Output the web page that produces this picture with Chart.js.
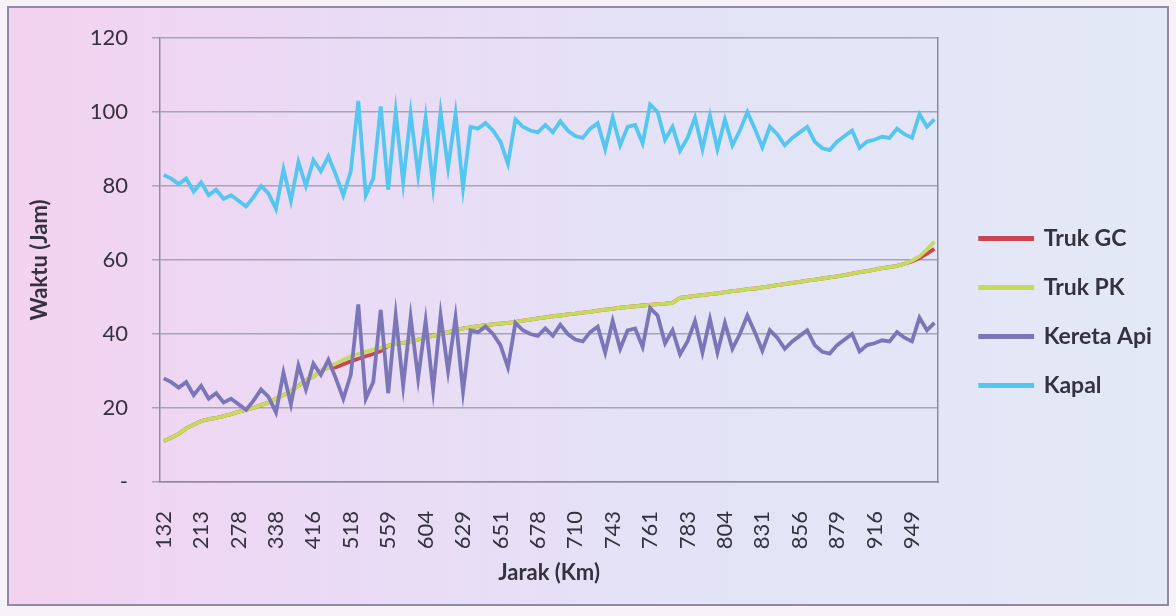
<!DOCTYPE html>
<html>
<head>
<meta charset="utf-8">
<script src="https://cdn.jsdelivr.net/npm/chart.js@4.4.1/dist/chart.umd.min.js"></script>
<style>
  html, body { margin: 0; padding: 0; width: 1176px; height: 616px; overflow: hidden; background: #f7f2f8; }
  .frame {
    position: absolute; left: 7px; top: 6px; width: 1158px; height: 596px;
    border: 2px solid #8f88a6;
    background: linear-gradient(90deg, #f3d2ef 0%, #ebdaf5 25%, #e4e2f6 55%, #e3e9f6 100%);
  }
  #chart { position: absolute; left: 0; top: 0; }
</style>
</head>
<body>
<div class="frame"></div>
<canvas id="chart" width="1176" height="616"></canvas>
<script>
// Jarak (Km) - one label per point, only every 5th is shown on the axis
const jarak = [
  132, 148, 165, 181, 198, 213, 226, 240, 252, 265,
  278, 290, 301, 315, 327, 338, 352, 371, 389, 402,
  416, 437, 458, 479, 497, 518, 525, 533, 541, 550,
  559, 567, 578, 588, 596, 604, 609, 614, 619, 624,
  629, 633, 638, 642, 647, 651, 657, 662, 668, 673,
  678, 684, 691, 697, 703, 710, 717, 724, 730, 737,
  743, 747, 750, 754, 757, 761, 765, 770, 774, 779,
  783, 787, 791, 796, 800, 804, 810, 815, 820, 826,
  831, 836, 841, 846, 851, 856, 861, 866, 870, 875,
  879, 886, 894, 901, 909, 916, 923, 929, 936, 942,
  949, 958, 967, 981
];

const trukGC = [
  11, 12, 13, 14.5, 15.5, 16.5, 17, 17.3, 17.8, 18.3,
  19, 19.5, 20, 20.8, 21.5, 22.5, 23.5, 24.5, 26, 27.5,
  28.5, 30, 31, 31, 31.8, 32.6, 33.3, 34, 34.6, 35.4,
  36.8, 37.3, 37.6, 38, 38.5, 39, 39.5, 40, 40.5, 41,
  41.5, 41.8, 42.1, 42.4, 42.6, 42.8, 43, 43.3, 43.6, 43.9,
  44.2, 44.5, 44.8, 45, 45.3, 45.5, 45.8, 46, 46.3, 46.6,
  46.8, 47.1, 47.3, 47.5, 47.7, 47.9, 48.1, 48.2, 48.4, 49.8,
  50, 50.3, 50.5, 50.8, 51, 51.3, 51.6, 51.8, 52.1, 52.3,
  52.6, 52.9, 53.2, 53.5, 53.8, 54.1, 54.4, 54.7, 55, 55.3,
  55.6, 55.9, 56.3, 56.7, 57, 57.4, 57.8, 58.1, 58.4, 59,
  59.6, 60.5, 61.7, 63
];

const trukPK = [
  11, 12, 13, 14.5, 15.5, 16.5, 17, 17.3, 17.8, 18.3,
  19, 19.5, 20, 20.8, 21.5, 22.5, 23.5, 24.5, 26, 27.5,
  28.5, 30, 31, 32, 33, 34, 34.6, 35.2, 35.8, 36.3,
  36.8, 37.3, 37.6, 38, 38.5, 39, 39.5, 40, 40.5, 41,
  41.5, 41.8, 42.1, 42.4, 42.6, 42.8, 43, 43.3, 43.6, 43.9,
  44.2, 44.5, 44.8, 45, 45.3, 45.5, 45.8, 46, 46.3, 46.6,
  46.8, 47.1, 47.3, 47.5, 47.7, 47.9, 48.1, 48.2, 48.4, 49.8,
  50, 50.3, 50.5, 50.8, 51, 51.3, 51.6, 51.8, 52.1, 52.3,
  52.6, 52.9, 53.2, 53.5, 53.8, 54.1, 54.4, 54.7, 55, 55.3,
  55.6, 55.9, 56.3, 56.7, 57, 57.4, 57.8, 58.1, 58.4, 59,
  59.8, 61, 62.8, 65
];

const keretaApi = [
  28, 27, 25.5, 27, 23.5, 26, 22.5, 24, 21.5, 22.5,
  21, 19.5, 22, 25, 23, 18.8, 29.5, 21, 31.5, 25,
  32, 29, 33, 28, 22.5, 29, 48, 22.5, 27, 46.5,
  24, 45, 26, 44.5, 28, 43.5, 25, 45, 30, 44.5,
  24.5, 41, 40.5, 42, 40, 37, 31, 43, 41, 40,
  39.5, 41.5, 39.5, 42.5, 40, 38.5, 38, 40.5, 42, 35,
  43.5, 36, 41, 41.5, 36.5, 47, 45, 37.5, 41, 34.5,
  38, 43.5, 35, 44, 35, 43, 36, 40, 45, 40.5,
  35.5, 41, 39, 36, 38, 39.5, 41, 37, 35.2, 34.7,
  37, 38.5, 40, 35.3, 37, 37.5, 38.3, 38, 40.5, 39,
  38, 44.4, 41, 43
];

const kapal = [
  83, 82, 80.5, 82, 78.5, 81, 77.5, 79, 76.5, 77.5,
  76, 74.5, 77, 80, 78, 73.8, 84.5, 76, 86.5, 80,
  87, 84, 88, 83, 77.5, 84, 103, 77.5, 82, 101.5,
  79, 100, 81, 99.5, 83, 98.5, 80, 100, 85, 99.5,
  79.5, 96, 95.5, 97, 95, 92, 86, 98, 96, 95,
  94.5, 96.5, 94.5, 97.5, 95, 93.5, 93, 95.5, 97, 90,
  98.5, 91, 96, 96.5, 91.5, 102, 100, 92.5, 96, 89.5,
  93, 98.5, 90, 99, 90, 98, 91, 95, 100, 95.5,
  90.5, 96, 94, 91, 93, 94.5, 96, 92, 90.2, 89.7,
  92, 93.5, 95, 90.3, 92, 92.5, 93.3, 93, 95.5, 94,
  93, 99.4, 96, 98
];

const yTicks = { min: 0, max: 120, step: 20 };

Chart.defaults.font.family = 'Lato, "Open Sans", sans-serif';
Chart.defaults.color = '#34323f';

// the legend box gets capped narrower than its text; let it use the room on the right
const legendRoom = {
  id: 'legendRoom',
  afterLayout: chart => { chart.legend.right = chart.width; }
};

const ctx = document.getElementById('chart').getContext('2d');
new Chart(ctx, {
  type: 'line',
  data: {
    labels: jarak,
    datasets: [
      { label: 'Truk GC', data: trukGC, borderColor: '#c9454f', backgroundColor: '#c9454f', order: 4 },
      { label: 'Truk PK', data: trukPK, borderColor: '#c6da5c', backgroundColor: '#c6da5c', order: 3 },
      { label: 'Kereta Api', data: keretaApi, borderColor: '#7b76b8', backgroundColor: '#7b76b8', order: 2 },
      { label: 'Kapal', data: kapal, borderColor: '#55c6ef', backgroundColor: '#55c6ef', order: 1 }
    ]
  },
  options: {
    responsive: false,
    animation: false,
    layout: { padding: { top: 38, bottom: 30, left: 0, right: 31 } },
    elements: {
      point: { radius: 0 },
      line: { borderWidth: 3.8, tension: 0 }
    },
    scales: {
      x: {
        offset: true,
        grid: { display: false },
        border: { color: '#8d8aa0', width: 1.5 },
        ticks: {
          autoSkip: false, minRotation: 90, maxRotation: 90, padding: 21,
          font: { size: 22 },
          callback: (v, i) => (i % 5 === 0 ? jarak[i] : '')
        },
        title: { display: true, text: 'Jarak (Km)', font: { size: 22, weight: 'bold' }, padding: 0 },
        afterFit: s => { s.height = 104; }
      },
      y: {
        min: yTicks.min, max: yTicks.max,
        ticks: {
          stepSize: yTicks.step, padding: 24, font: { size: 22 },
          callback: v => (v === 0 ? '-' : v)
        },
        grid: { color: '#a7a4b6', lineWidth: 1.5, tickLength: 8 },
        border: { color: '#8d8aa0', width: 1.5 },
        title: { display: true, text: 'Waktu (Jam)', font: { size: 22, weight: 'bold' }, padding: { top: 27 } },
        afterFit: s => { s.width = 160; }
      },
      // right edge of the plot frame
      y2: {
        position: 'right',
        grid: { display: false },
        ticks: { display: false },
        border: { color: '#8d8aa0', width: 1.5 },
        afterFit: s => { s.width = 16; }
      }
    },
    plugins: {
      legend: {
        position: 'right',
        labels: {
          boxWidth: 52, boxHeight: 1, padding: 26, color: '#34323f',
          font: { size: 23, weight: 'bold' },
          sort: (a, b) => a.datasetIndex - b.datasetIndex
        }
      },
      tooltip: { enabled: false }
    }
  },
  plugins: [legendRoom]
});
</script>
</body>
</html>
